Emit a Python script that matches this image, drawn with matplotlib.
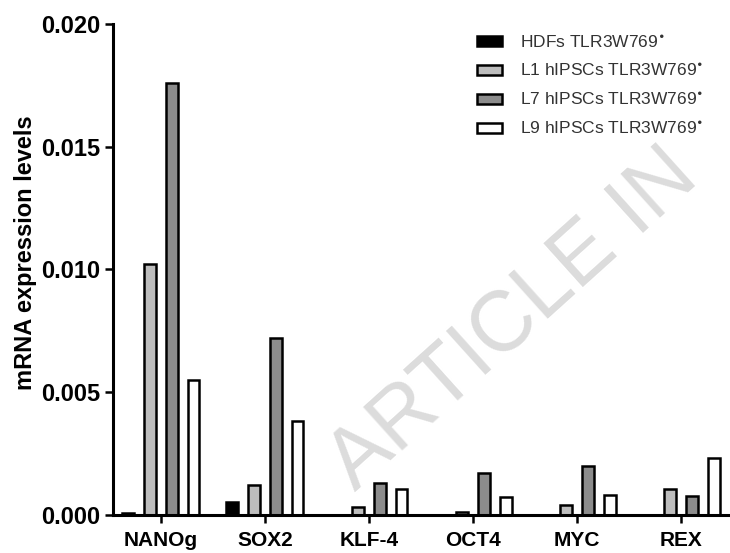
import numpy as np
import matplotlib
matplotlib.use("Agg")
import matplotlib.pyplot as plt

genes = ["NANOg", "SOX2", "KLF-4", "OCT4", "MYC", "REX"]
series_names = [
    r"HDFs TLR3W769$^{\bullet}$",
    r"L1 hIPSCs TLR3W769$^{\bullet}$",
    r"L7 hIPSCs TLR3W769$^{\bullet}$",
    r"L9 hIPSCs TLR3W769$^{\bullet}$",
]
hdfs = [0.00005, 0.00053, 0.0, 0.0, 0.0, 0.0]
l1 = [0.0102, 0.0012, 0.0003, 0.00012, 0.0004, 0.00102]
l7 = [0.0176, 0.0072, 0.0013, 0.0017, 0.00196, 0.00075]
l9 = [0.0055, 0.0038, 0.00106, 0.0007, 0.00078, 0.0023]
yticks = [0.000, 0.005, 0.010, 0.015, 0.020]

colors = ["black", "#bdbdbd", "#8c8c8c", "white"]

plt.rcParams["font.family"] = ["Liberation Sans", "DejaVu Sans"]

fig = plt.figure(figsize=(7.3, 5.53), dpi=100)
ax = fig.add_axes([0.1548, 0.0696, 0.8452, 0.887])
ax.set_facecolor("none")

# watermark
fig.text(355 / 730, 1 - 492 / 553, "ARTICLE IN", rotation=42, rotation_mode="anchor",
         ha="left", va="baseline", fontsize=61, color="#dcdcdc", zorder=-1)

x = np.arange(len(genes))
step = 0.21
width = 0.11
for i, (vals, name) in enumerate(zip([hdfs, l1, l7, l9], series_names)):
    ax.bar(x + (i - 1.5) * step, vals, width, color=colors[i], edgecolor="black",
           linewidth=1.8, label=name, zorder=2)

ax.set_xlim(-0.46, 5.47)
ax.set_ylim(0, 0.020)
ax.set_yticks(yticks)
ax.set_yticklabels([f"{v:.3f}" for v in yticks])
ax.set_xticks(x)
ax.set_xticklabels(genes)
for lab in ax.get_xticklabels():
    lab.set_fontweight("bold")
    lab.set_fontsize(15)
for lab in ax.get_yticklabels():
    lab.set_fontweight("bold")
    lab.set_fontsize(17)
ax.tick_params(axis="both", direction="out", length=6, width=1.8)
ax.tick_params(axis="x", pad=6)
ax.tick_params(axis="y", pad=3)
ax.set_ylabel("mRNA expression levels", fontsize=17, fontweight="bold")
ax.yaxis.set_label_coords(-0.123, 0.533)

ax.spines["top"].set_visible(False)
ax.spines["right"].set_visible(False)
ax.spines["left"].set_linewidth(2.2)
ax.spines["bottom"].set_linewidth(2.2)

leg = ax.legend(loc="upper left", bbox_to_anchor=(477 / 730, 1 - 34 / 553),
                bbox_transform=fig.transFigure, frameon=False, fontsize=12.5,
                handlelength=1.45, handleheight=0.5, handletextpad=1.0,
                labelspacing=0.7, borderpad=0, borderaxespad=0)
for t in leg.get_texts():
    t.set_color("#333333")

fig.savefig("out.png", dpi=100)
